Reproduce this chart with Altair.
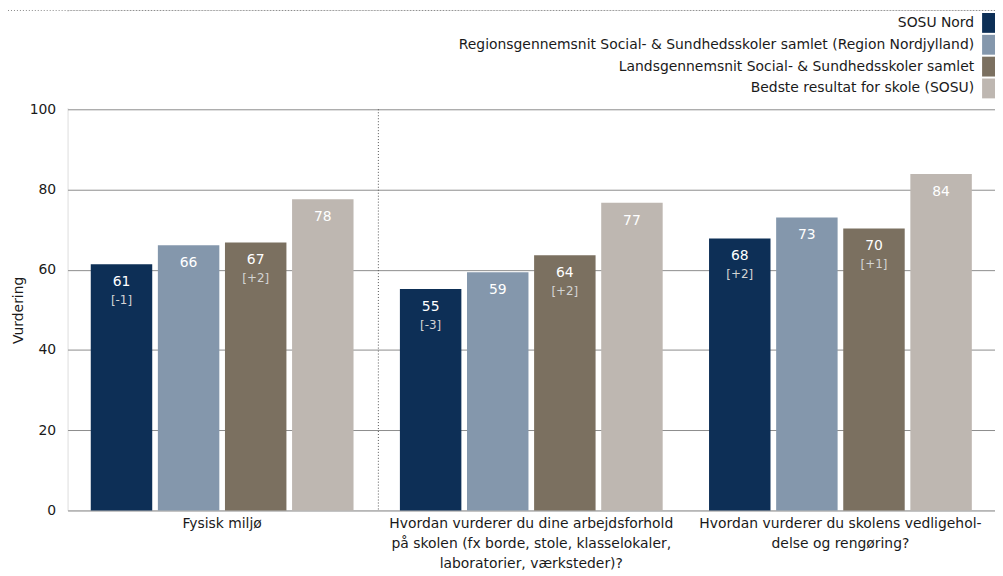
import altair as alt
import pandas as pd

categories = [
    "Fysisk miljø",
    "Hvordan vurderer du dine arbejdsforhold|på skolen (fx borde, stole, klasselokaler,|laboratorier, værksteder)?",
    "Hvordan vurderer du skolens vedligehol-|delse og rengøring?",
]
series = [
    "SOSU Nord",
    "Regionsgennemsnit Social- & Sundhedsskoler samlet (Region Nordjylland)",
    "Landsgennemsnit Social- & Sundhedsskoler samlet",
    "Bedste resultat for skole (SOSU)",
]
colors = ["#0d2f56", "#8497ac", "#7b7060", "#beb7b1"]

sosu_nord = [61.4, 55.2, 67.8]
region = [66.1, 59.4, 73.0]
lands = [66.8, 63.6, 70.3]
bedste = [77.6, 76.7, 83.9]

sosu_nord_labels = ["61", "55", "68"]
region_labels = ["66", "59", "73"]
lands_labels = ["67", "64", "70"]
bedste_labels = ["78", "77", "84"]

sosu_nord_delta = ["[-1]", "[-3]", "[+2]"]
region_delta = ["", "", ""]
lands_delta = ["[+2]", "[+2]", "[+1]"]
bedste_delta = ["", "", ""]

y_ticks = [0, 20, 40, 60, 80, 100]

rows = []
for s, vals, labs, deltas in [
    (series[0], sosu_nord, sosu_nord_labels, sosu_nord_delta),
    (series[1], region, region_labels, region_delta),
    (series[2], lands, lands_labels, lands_delta),
    (series[3], bedste, bedste_labels, bedste_delta),
]:
    for c, v, l, d in zip(categories, vals, labs, deltas):
        rows.append({"cat": c, "series": s, "value": v, "label": l, "delta": d})
df = pd.DataFrame(rows)

FONT = "DejaVu Sans"
W, H = 934, 504

yscale = alt.Scale(domain=[0, 100], range=[H, 100])
xenc = alt.X(
    "cat:N",
    sort=categories,
    scale=alt.Scale(paddingInner=0.15, paddingOuter=0.075),
    axis=alt.Axis(
        title=None, domain=False, ticks=False, labelAngle=0, grid=False,
        labelExpr="split(datum.label, '|')", labelLineHeight=20,
        labelPadding=6, labelFontSize=14, labelColor="#1a1a1a",
        labelLimit=0, labelBaseline="top", labelFont=FONT,
    ),
)
xoff = alt.XOffset("series:N", sort=series,
                   scale=alt.Scale(paddingInner=0.084, paddingOuter=0))
color = alt.Color("series:N", sort=series,
                  scale=alt.Scale(domain=series, range=colors), legend=None)

base = alt.Chart(df)

bars = base.mark_bar().encode(
    x=xenc,
    xOffset=xoff,
    y=alt.Y("value:Q", scale=yscale,
            axis=alt.Axis(values=y_ticks, grid=True, gridColor="#8c8c8c",
                          gridWidth=1, domain=False, ticks=False,
                          labelPadding=12, labelFontSize=14, labelColor="#1a1a1a",
                          labelFont=FONT, title="Vurdering", titleFontSize=14,
                          titleFontWeight="normal", titleColor="#1a1a1a",
                          titleFont=FONT, titlePadding=4)),
    color=color,
)

value_text = base.mark_text(dy=18, color="white", fontSize=14, font=FONT,
                            baseline="middle").encode(
    x=alt.X("cat:N", sort=categories),
    xOffset=alt.XOffset("series:N", sort=series),
    y=alt.Y("value:Q"),
    text="label:N",
)

delta_text = base.transform_filter("datum.delta != ''").mark_text(
    dy=36, color="#d4d4d4", fontSize=12, font=FONT, baseline="middle"
).encode(
    x=alt.X("cat:N", sort=categories),
    xOffset=alt.XOffset("series:N", sort=series),
    y=alt.Y("value:Q"),
    text="delta:N",
)

sep = alt.Chart(pd.DataFrame({"a": [0]})).mark_rule(
    strokeDash=[1, 2], color="#555555", strokeWidth=1
).encode(x=alt.value(313), y=alt.datum(100), y2=alt.datum(0))

main = alt.layer(bars, value_text, delta_text, sep)

leg_df = pd.DataFrame({"series": series})
leg_y = alt.Y("series:N", sort=series,
              scale=alt.Scale(type="point", range=[13, 79], padding=0),
              axis=None)
leg_sym = alt.Chart(leg_df).mark_point(
    shape="M-0.35,-0.5H0.35V0.5H-0.35Z", filled=True, size=1600, opacity=1
).encode(x=alt.value(928), y=leg_y, color=color)
leg_txt = alt.Chart(leg_df).mark_text(
    align="right", baseline="middle", fontSize=14, font=FONT, color="#1a1a1a"
).encode(x=alt.value(913), y=leg_y, text="series:N")

mask = alt.Chart(pd.DataFrame({"a": [0]})).mark_rule(
    color="#ffffff", strokeWidth=3
).encode(x=alt.value(0.5), y=alt.value(2), y2=alt.value(99))

topline = alt.Chart(pd.DataFrame({"a": [0]})).mark_rule(
    strokeDash=[1, 2], color="#888888", strokeWidth=1
).encode(x=alt.value(-60), x2=alt.value(W + 1), y=alt.value(0.5))

legend = alt.layer(leg_sym, leg_txt, mask, topline)

chart = alt.layer(main, legend).resolve_scale(y="independent").properties(
    width=W, height=H,
    padding={"left": 60, "top": 0, "right": 0, "bottom": 64},
    autosize=alt.AutoSizeParams(type="none"),
).configure_view(stroke=None).configure(font=FONT).configure_axis(
    domain=False, ticks=False, grid=False
)

chart.save("out.html", embed_options={"renderer": "svg", "actions": False})
